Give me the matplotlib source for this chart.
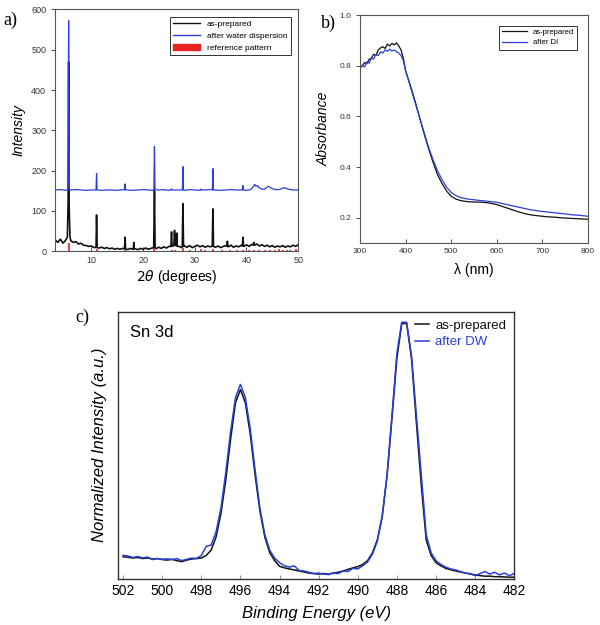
import numpy as np
import matplotlib
matplotlib.use('Agg')
import matplotlib.pyplot as plt
from matplotlib.lines import Line2D
from matplotlib.patches import Patch

plt.rcParams['font.family'] = ['Liberation Sans', 'DejaVu Sans']
plt.rcParams['mathtext.fontset'] = 'dejavusans'

BLACK = '#111111'
BLUE = '#2a3fd6'
RED = '#e8231f'

# ---- a) XRD ----
xrd_base_x = np.arange(3.0, 50.01, 0.5)
xrd_black_base = [28, 22, 30, 20, 27, 30, 26, 22, 24, 18,
                  20, 15, 14, 12, 13, 9, 11, 8, 10, 7,
                  9, 6, 8, 5, 7, 5, 7, 6, 4, 7,
                  5, 6, 4, 7, 5, 8, 5, 7, 9, 6,
                  10, 7, 11, 8, 12, 10, 13, 9, 12, 9,
                  13, 10, 14, 9, 12, 15, 11, 14, 10, 13,
                  11, 14, 10, 13, 9, 12, 14, 11, 15, 10,
                  13, 11, 15, 12, 16, 12, 17, 14, 18, 13,
                  16, 12, 15, 11, 14, 10, 13, 11, 14, 10,
                  13, 11, 15, 12, 16]
xrd_blue_base_x = np.arange(3, 51, 1)
xrd_blue_base = [152, 153, 151, 152, 153, 152, 151, 152, 153, 151,
                 152, 152, 151, 153, 152, 151, 152, 153, 152, 151,
                 152, 153, 151, 152, 152, 151, 153, 152, 151, 152,
                 153, 152, 151, 152, 153, 152, 152, 151, 152, 153,
                 152, 151, 152, 153, 152, 151, 152, 152]

xrd_black_peaks = [
    [(5.35, 35), (5.5, 120), (5.6, 470), (5.7, 110), (5.85, 38)],
    [(10.9, 10), (11.0, 90), (11.12, 9)],
    [(16.4, 6), (16.52, 35), (16.62, 6)],
    [(18.1, 5), (18.2, 22), (18.3, 6)],
    [(22.05, 10), (22.2, 150), (22.32, 10)],
    [(25.38, 12), (25.5, 48), (25.6, 12), (25.95, 14), (26.08, 52), (26.2, 15),
     (26.38, 14), (26.5, 45), (26.6, 12)],
    [(27.58, 12), (27.7, 118), (27.82, 12)],
    [(33.38, 13), (33.5, 105), (33.62, 12)],
    [(36.2, 12), (36.3, 25), (36.42, 12)],
    [(39.2, 13), (39.32, 35), (39.42, 13)],
    [(41.3, 15), (41.42, 22), (41.55, 15)],
]
xrd_blue_peaks = [
    [(5.48, 153), (5.6, 572), (5.72, 153)],
    [(10.9, 152), (11.0, 193), (11.1, 152)],
    [(16.42, 152), (16.52, 167), (16.62, 152)],
    [(22.08, 153), (22.2, 260), (22.3, 153)],
    [(25.4, 152), (25.5, 155), (25.6, 152)],
    [(27.6, 152), (27.7, 210), (27.8, 152)],
    [(31.1, 152), (31.2, 154), (31.3, 152)],
    [(33.4, 152), (33.5, 205), (33.6, 152)],
    [(39.2, 152), (39.3, 163), (39.4, 152)],
    [(40.8, 153), (41.3, 160), (41.6, 166), (41.85, 161), (42.1, 163), (42.5, 157), (43.0, 154)],
    [(43.5, 154), (44.2, 161), (44.9, 156), (45.5, 153)],
    [(46.4, 153), (47.3, 158), (48.1, 154)],
]
ref_pos = [5.6, 11.0, 16.5, 22.2, 25.5, 26.2, 27.7, 29.0, 31.2, 32.0, 33.5, 35.2,
           36.8, 38.2, 39.3, 40.5, 41.5, 42.5, 43.6, 44.5, 45.5, 46.3, 47.0, 47.8,
           48.5, 49.6]
ref_height = [20, 5, 3, 8, 4, 3, 8, 3, 6, 3, 6, 3,
              4, 3, 4, 3, 3, 4, 3, 4, 3, 5, 3, 4,
              3, 5]

# ---- b) UV-vis ----
uv_wl = list(range(300, 400, 5)) + list(range(400, 801, 10))
uv_black = [0.795, 0.80, 0.812, 0.808, 0.825, 0.83, 0.845, 0.84, 0.862, 0.87,
            0.875, 0.868, 0.885, 0.878, 0.888, 0.882, 0.89, 0.878, 0.862, 0.83,
            0.78, 0.725, 0.665, 0.60, 0.535, 0.475, 0.42, 0.37, 0.335, 0.305,
            0.285, 0.274, 0.268, 0.265, 0.263, 0.262, 0.262, 0.261, 0.259, 0.256,
            0.252, 0.246, 0.24, 0.234, 0.228, 0.222, 0.217, 0.213, 0.21, 0.208,
            0.206, 0.204, 0.203, 0.202, 0.2, 0.199, 0.198, 0.197, 0.196, 0.195, 0.194]
uv_blue = [0.79, 0.80, 0.795, 0.815, 0.81, 0.83, 0.826, 0.845, 0.84, 0.855,
           0.85, 0.862, 0.857, 0.865, 0.858, 0.862, 0.855, 0.85, 0.84, 0.82,
           0.78, 0.72, 0.66, 0.60, 0.54, 0.48, 0.43, 0.385, 0.35, 0.32,
           0.30, 0.288, 0.28, 0.276, 0.273, 0.271, 0.269, 0.267, 0.265, 0.263,
           0.261, 0.257, 0.253, 0.249, 0.245, 0.241, 0.237, 0.233, 0.23, 0.227,
           0.225, 0.223, 0.221, 0.219, 0.217, 0.215, 0.213, 0.211, 0.21, 0.208, 0.206]

# ---- c) XPS Sn 3d ----
be = np.linspace(502.0, 482.0, 81)
xps_black = [0.085, 0.083, 0.08, 0.082, 0.078, 0.08, 0.076, 0.078, 0.074, 0.072,
             0.075, 0.07, 0.066, 0.072, 0.076, 0.078, 0.08, 0.09, 0.11, 0.16,
             0.25, 0.38, 0.54, 0.68, 0.73, 0.68, 0.56, 0.4, 0.26, 0.16,
             0.1, 0.07, 0.048, 0.042, 0.038, 0.034, 0.03, 0.026, 0.022, 0.02,
             0.018, 0.02, 0.018, 0.022, 0.025, 0.03, 0.036, 0.042, 0.047, 0.055,
             0.07, 0.1, 0.15, 0.24, 0.4, 0.62, 0.85, 0.985, 0.985, 0.85,
             0.6, 0.36, 0.15, 0.09, 0.062, 0.05, 0.04, 0.035, 0.03, 0.026,
             0.022, 0.018, 0.015, 0.012, 0.01, 0.01, 0.008, 0.008, 0.007, 0.006, 0.006]
xps_blue = [0.09, 0.088, 0.082, 0.086, 0.08, 0.084, 0.074, 0.078, 0.075, 0.077,
            0.074, 0.078, 0.07, 0.075, 0.08, 0.078, 0.09, 0.125, 0.13, 0.18,
            0.27, 0.41, 0.57, 0.7, 0.75, 0.7, 0.58, 0.42, 0.27, 0.17,
            0.11, 0.08, 0.062, 0.05, 0.045, 0.05, 0.032, 0.03, 0.025, 0.02,
            0.022, 0.018, 0.016, 0.022, 0.02, 0.03, 0.028, 0.04, 0.038, 0.05,
            0.065, 0.095, 0.145, 0.24, 0.4, 0.63, 0.87, 0.99, 0.99, 0.86,
            0.63, 0.4, 0.17, 0.1, 0.07, 0.055, 0.045, 0.038, 0.034, 0.028,
            0.022, 0.02, 0.012, 0.02, 0.028, 0.018, 0.025, 0.015, 0.022, 0.012, 0.02]


def merge_peaks(base_x, base_y, groups):
    # drop baseline points covered by a peak, then add the peak points
    xs = list(base_x)
    ys = list(base_y)
    keep = [True] * len(xs)
    for g in groups:
        lo, hi = g[0][0], g[-1][0]
        for i, x in enumerate(xs):
            if lo <= x <= hi:
                keep[i] = False
    pts = [(x, y) for x, y, k in zip(xs, ys, keep) if k]
    for g in groups:
        pts.extend(g)
    pts.sort()
    return [p[0] for p in pts], [p[1] for p in pts]


def style_small(ax, size):
    for s in ax.spines.values():
        s.set_color('#555555')
        s.set_linewidth(0.8)
    ax.tick_params(labelsize=size, length=3, width=0.6, colors='#333333')


fig = plt.figure(figsize=(6.0, 6.25), dpi=100)

# a)
ax1 = fig.add_axes([0.092, 0.598, 0.405, 0.387])
bx, by = merge_peaks(xrd_base_x, xrd_black_base, xrd_black_peaks)
ux, uy = merge_peaks(xrd_blue_base_x, xrd_blue_base, xrd_blue_peaks)
ax1.vlines(ref_pos, 0, ref_height, color=RED, linewidth=1.2)
ax1.plot(bx, by, color=BLACK, linewidth=1.2)
ax1.plot(ux, uy, color=BLUE, linewidth=0.9)
ax1.set_xlim(3, 50)
ax1.set_ylim(0, 600)
ax1.set_xticks([10, 20, 30, 40, 50])
ax1.set_yticks(range(0, 601, 100))
style_small(ax1, 6.5)
ax1.tick_params(axis='x', direction='in')
ax1.tick_params(axis='y', direction='out')
ax1.set_xlabel(r'$2\theta$ (degrees)', fontsize=10, labelpad=2)
ax1.set_ylabel('Intensity', fontsize=10, style='italic', labelpad=4)
handles = [Line2D([], [], color=BLACK, lw=1), Line2D([], [], color=BLUE, lw=1),
           Patch(facecolor=RED, edgecolor=RED)]
leg = ax1.legend(handles, ['as-prepared', 'after water dispersion', 'reference pattern'],
                 loc='upper right', fontsize=6, fancybox=False, edgecolor='#333333',
                 framealpha=1, handlelength=3.2, borderaxespad=0.9, labelspacing=0.5)
leg.get_frame().set_linewidth(0.7)
fig.text(0.005, 0.96, 'a)', fontsize=13, family='Liberation Serif')

# b)
ax2 = fig.add_axes([0.6, 0.611, 0.38, 0.365])
ax2.plot(uv_wl, uv_black, color=BLACK, linewidth=0.9)
ax2.plot(uv_wl, uv_blue, color=BLUE, linewidth=0.9)
ax2.set_xlim(300, 800)
ax2.set_ylim(0.1, 1.0)
ax2.set_yticks([0.2, 0.4, 0.6, 0.8, 1.0])
ax2.set_yticklabels(['0.2', '0.4', '0.6', '0.8', '1.0'])
style_small(ax2, 6)
ax2.tick_params(axis='x', direction='in')
ax2.tick_params(axis='y', direction='out')
ax2.set_xlabel('λ (nm)', fontsize=10, labelpad=6)
ax2.set_ylabel('Absorbance', fontsize=10, style='italic', labelpad=6)
leg2 = ax2.legend(['as-prepared', 'after DI'], loc='upper right', fontsize=5.5,
                  fancybox=False, edgecolor='#333333', framealpha=1,
                  handlelength=3.2, borderaxespad=1.4, labelspacing=0.4)
leg2.get_frame().set_linewidth(0.7)
fig.text(0.535, 0.955, 'b)', fontsize=13, family='Liberation Serif')

# c)
ax3 = fig.add_axes([0.197, 0.074, 0.66, 0.427])
ax3.plot(be, xps_black, color=BLACK, linewidth=1.1, label='as-prepared')
ax3.plot(be, xps_blue, color=BLUE, linewidth=1.1, label='after DW')
ax3.set_xlim(502.25, 482)
ax3.set_ylim(0, 1.03)
ax3.set_xticks(range(502, 481, -2))
ax3.set_yticks([])
for s in ax3.spines.values():
    s.set_color('#333333')
    s.set_linewidth(1.0)
ax3.tick_params(axis='x', direction='in', labelsize=10, length=3, color='#999999')
ax3.set_xlabel('Binding Energy (eV)', fontsize=12, style='italic', labelpad=6)
ax3.set_ylabel('Normalized Intensity (a.u.)', fontsize=12, style='italic', labelpad=8)
ax3.text(0.03, 0.95, 'Sn 3d', transform=ax3.transAxes, fontsize=12, va='top')
ax3.legend(loc='upper right', fontsize=9.5, frameon=False, handlelength=1.0,
           handletextpad=0.5, labelcolor='linecolor', borderaxespad=0.2,
           labelspacing=0.3)
fig.text(0.125, 0.485, 'c)', fontsize=13, family='Liberation Serif')

fig.savefig('out.png', dpi=100)
